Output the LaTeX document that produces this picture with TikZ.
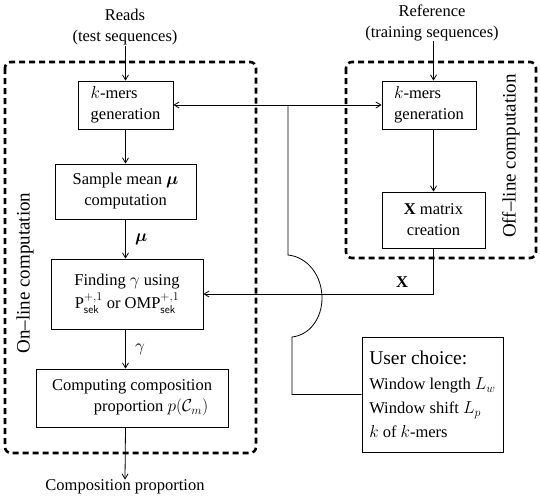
\documentclass[tikz,border=0pt]{standalone}
\usepackage{amsmath,bm}
\usepackage{fontspec}
\setmainfont{Liberation Serif}
\usetikzlibrary{arrows.meta}
\tikzset{
  box/.style={draw, line width=0.8pt, inner sep=0pt, align=center},
  conn/.style={line width=0.8pt},
  arr/.style={line width=0.8pt, -{Straight Barb[length=5pt,width=6pt]}},
  grp/.style={draw, line width=2.6pt, dash pattern=on 6pt off 4pt, rounded corners=6pt},
  lbl/.style={inner sep=0pt, align=center},
}
\begin{document}
\begin{tikzpicture}[x=1pt,y=-1pt,font=\fontsize{16.5}{21}\selectfont]
\useasboundingbox (0,0) rectangle (540,499);
% groups
\draw[grp] (5,62) rectangle (256,453);
\draw[grp] (346,62) rectangle (536,258);
\node[lbl, rotate=90, font=\fontsize{19}{22}\selectfont] (onl) at (25,273) {On--line computation};
\node[lbl, rotate=90, font=\fontsize{19}{22}\selectfont] (offl) at (511,156) {Off--line computation};
% left column
\node[lbl] (reads) at (125,27.5) {Reads\\(test sequences)};
\node[box, minimum width=95pt, minimum height=48pt, align=left] (k1) at (125.5,105) {$k$-mers\\generation};
\node[box, minimum width=141pt, minimum height=55pt] (sm) at (125.5,191.5) {Sample mean $\bm{\mu}$\\computation};
\node[box, minimum width=152pt, minimum height=70pt] (find) at (127,294) {Finding $\gamma$ using\\[2pt]$\mathrm{P}^{+,1}_{\mathsf{sek}}$ or $\mathrm{OMP}^{+,1}_{\mathsf{sek}}$};
\node[box, minimum width=192pt, minimum height=58pt] (comp) at (132,398) {Computing composition\\\hspace*{38pt}proportion $p(\mathcal{C}_m)$};
\node[lbl] (out) at (125,487) {Composition proportion};
% right column
\node[lbl] (ref) at (432,23) {Reference\\(training sequences)};
\node[box, minimum width=94pt, minimum height=48pt, align=left] (k2) at (429,105) {$k$-mers\\generation};
\node[box, minimum width=103pt, minimum height=56pt] (xm) at (433.5,220) {$\mathbf{X}$ matrix\\creation};
\node[box, minimum width=141pt, minimum height=115pt, align=left] (uc) at (432.5,394.5)
  {{\fontsize{19.5}{24}\selectfont User choice:}\\[4pt]Window length $L_w$\\[3pt]Window shift $L_p$\\[3pt]$k$ of $k$-mers};
% connectors
\draw[arr] (reads.south -| k1.north) -- (k1.north);
\draw[arr] (k1.south) -- (sm.north);
\draw[arr] (sm.south) -- (sm.south |- find.north) node[midway, right=6pt] {$\bm{\mu}$};
\draw[arr] (sm.south |- find.south) -- (sm.south |- comp.north) node[midway, right=6pt] {$\gamma$};
\draw[arr] (sm.south |- comp.south) -- (out.north);
\draw[arr] (ref.south -| xm.north) -- (xm.north |- k2.north);
\draw[arr] (xm.north |- k2.south) -- (xm.north);
\draw[line width=0.8pt, {Straight Barb[length=5pt,width=6pt]}-{Straight Barb[length=5pt,width=6pt]}] (k1.east) -- (k2.west);
\draw[arr] (xm.south) |- (find.east);
\node[lbl] (xl) at (402,282) {$\mathbf{X}$};
\coordinate (j) at (288,105);
\draw[conn] (uc.west) -| (292,337) .. controls (310,335) and (322,318) .. (322,298)
  .. controls (322,276) and (308,257) .. (288,255) -- (j);
\end{tikzpicture}
\end{document}
